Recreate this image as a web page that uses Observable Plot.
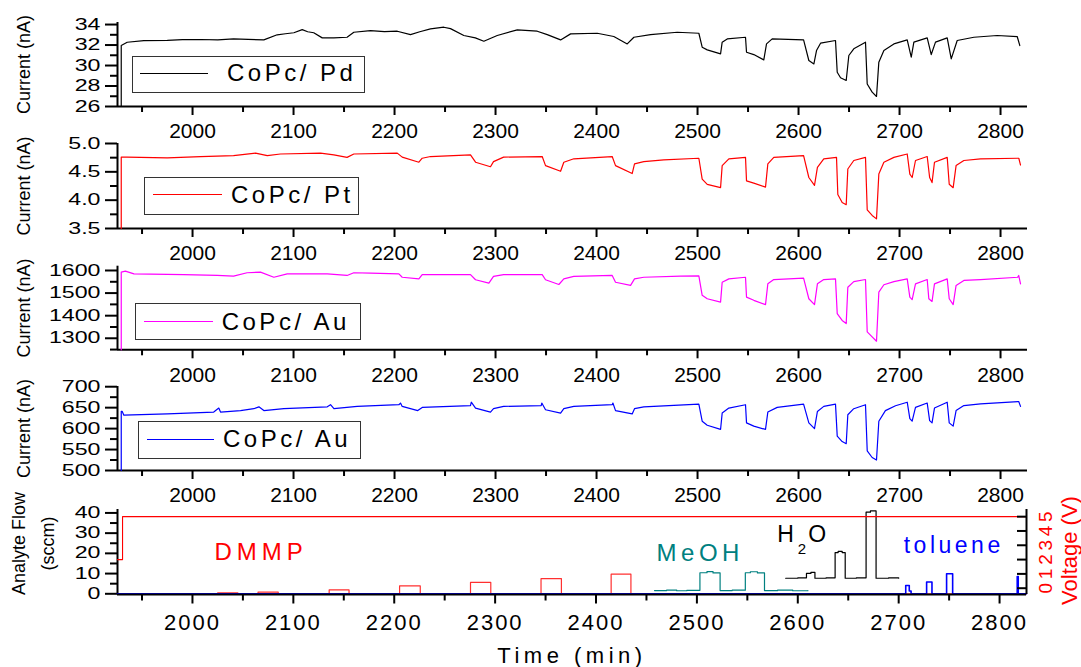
<!DOCTYPE html>
<html>
<head>
<meta charset="utf-8">
<script src="https://cdn.jsdelivr.net/npm/d3@7"></script>
<script src="https://cdn.jsdelivr.net/npm/@observablehq/plot@0.6"></script>
<style>
  html, body { margin: 0; padding: 0; background: #fff; }
  #chart { position: relative; width: 1081px; height: 667px; overflow: hidden; background: #fff;
           font-family: "Liberation Sans", Arial, Helvetica, sans-serif; }
  #chart svg { position: absolute; left: 0; max-width: none; }
  .leg { position: absolute; border: 1.5px solid #333; box-sizing: border-box; }
  .legline { position: absolute; height: 0; border-top: 1.2px solid; }
  .legtext { position: absolute; font-size: 24px; line-height: 24px; letter-spacing: 3.5px; color: #000; white-space: nowrap; }
</style>
</head>
<body>
<div id="chart"></div>
<script>
// ---------------- DATA ----------------
const timeDomain = [1925.7, 2826.7];
const xMajorTicks = [2000, 2100, 2200, 2300, 2400, 2500, 2600, 2700, 2800];
const xMinorTicks = [1950, 2050, 2150, 2250, 2350, 2450, 2550, 2650, 2750];

const pdTicks = [26, 28, 30, 32, 34];
const pdMinor = [27, 29, 31, 33];
const ptTicks = [3.5, 4.0, 4.5, 5.0];
const ptMinor = [3.75, 4.25, 4.75];
const auTicks = [1300, 1400, 1500, 1600];
const auMinor = [1250, 1350, 1450, 1550];
const au2Ticks = [500, 550, 600, 650, 700];
const au2Minor = [525, 575, 625, 675];
const flowTicks = [0, 10, 20, 30, 40];
const flowMinor = [5, 15, 25, 35];
const voltTicks = [0, 1, 2, 3, 4, 5];

// time (min), current (nA)
const pdCurrent = [
[1929.4,26],[1929.4,31.95],[1935.3,32.27],[1951.8,32.44],[1975,32.45],[1990,32.52],[2008,32.54],[2025,32.5],[2040.6,32.6],[2055,32.55],[2070.6,32.5],[2083.8,33.0],[2092,33.1],[2100.3,33.2],[2108.6,33.5],[2114,33.3],[2120,33.2],[2128.4,32.7],[2139.9,32.7],[2153,32.76],[2159.7,33.25],[2176.2,33.41],[2190,33.3],[2202.7,33.35],[2215.8,33.02],[2225,33.3],[2235.6,33.58],[2248.8,33.74],[2255.4,33.6],[2268.6,32.93],[2280,32.7],[2288.4,32.37],[2301.7,32.93],[2321.5,33.48],[2341.3,33.35],[2351.2,33.02],[2364.4,32.5],[2374.3,33.09],[2400.7,33.15],[2417.1,32.83],[2430.4,32.11],[2437,32.76],[2453.5,33.02],[2479.9,33.25],[2501.3,33.15],[2504.6,31.79],[2509.6,31.53],[2522.8,31.14],[2524.4,32.28],[2529.4,32.6],[2547.5,32.76],[2548.5,31.3],[2555.7,31.07],[2565.6,30.55],[2568.3,32.11],[2573.9,32.6],[2605,32.5],[2610.2,30.49],[2615.2,30.16],[2617.8,31.46],[2621.8,32.18],[2636.6,32.44],[2638.3,29.35],[2641.6,28.8],[2647.2,28.54],[2649.8,30.98],[2654.7,31.63],[2666.3,32.28],[2668,28.2],[2672.9,27.4],[2677.2,26.98],[2679.5,30.33],[2684.5,31.46],[2694.4,32.11],[2707.6,32.5],[2711.6,30.81],[2714.2,32.28],[2727.4,32.7],[2731.4,31.07],[2735.6,32.28],[2747.2,32.7],[2751.2,30.65],[2757.1,32.44],[2773.6,32.76],[2796.7,32.93],[2816.5,32.83],[2819.1,31.95]
];
const ptCurrent = [
[1929.4,3.5],[1929.4,4.76],[1935,4.76],[1975,4.745],[2008,4.77],[2040.6,4.786],[2062.4,4.83],[2074,4.786],[2087,4.815],[2126.7,4.83],[2139.9,4.80],[2153,4.755],[2159.7,4.815],[2202.7,4.83],[2207.6,4.76],[2224.1,4.67],[2227.4,4.74],[2235.6,4.77],[2275.2,4.80],[2280.2,4.67],[2295,4.59],[2298,4.68],[2308,4.76],[2346.2,4.77],[2349.5,4.61],[2364.4,4.51],[2367.6,4.67],[2377.5,4.73],[2415.5,4.77],[2418.8,4.61],[2435.3,4.47],[2437.6,4.64],[2446.8,4.68],[2466.6,4.71],[2501.3,4.74],[2504.6,4.37],[2509.6,4.28],[2522.8,4.22],[2524.4,4.61],[2531,4.73],[2547.5,4.755],[2548.5,4.34],[2555.7,4.30],[2567.3,4.23],[2569.6,4.64],[2575.5,4.755],[2605,4.786],[2610.2,4.40],[2615.8,4.26],[2618.7,4.58],[2625,4.73],[2637.6,4.755],[2638.9,4.10],[2643.2,3.96],[2647.2,3.92],[2648.8,4.55],[2654.7,4.70],[2666.3,4.755],[2668,3.83],[2672.9,3.73],[2677.2,3.67],[2679.5,4.46],[2684.5,4.67],[2694.4,4.755],[2707.6,4.815],[2710.2,4.46],[2712.5,4.40],[2715.8,4.70],[2727.4,4.77],[2729.8,4.40],[2732.2,4.31],[2734.6,4.67],[2747.2,4.755],[2749.2,4.28],[2753.1,4.22],[2756,4.61],[2763.7,4.70],[2780.2,4.73],[2818.1,4.74],[2819.8,4.62]
];
const auCurrent = [
[1929.4,1249],[1929.4,1593],[1933.5,1597],[1942,1585],[1991.4,1582],[2024.4,1578],[2040.6,1575],[2054,1590],[2067.3,1593],[2080.5,1570],[2093.7,1585],[2133.4,1585],[2153,1578],[2159.7,1590],[2176.2,1588],[2204.3,1585],[2207.6,1570],[2224.1,1563],[2227.4,1582],[2275.2,1582],[2280.2,1559],[2293.4,1544],[2298,1574],[2308,1582],[2346.2,1582],[2349.5,1559],[2362.7,1538],[2367.6,1563],[2377.5,1574],[2415.5,1578],[2418.8,1548],[2433.7,1534],[2437.6,1563],[2446.8,1570],[2483.2,1575],[2501.3,1576],[2504.6,1490],[2509.6,1475],[2522.8,1460],[2524.4,1548],[2531,1563],[2547.5,1570],[2548.5,1482],[2555.7,1468],[2567.3,1449],[2569.6,1541],[2575.5,1560],[2605,1566],[2610.2,1475],[2615.8,1449],[2618.7,1541],[2625,1560],[2636.6,1563],[2638.3,1409],[2643.2,1379],[2647.2,1365],[2648.8,1526],[2654.7,1551],[2666.3,1560],[2668,1328],[2672.9,1306],[2677.2,1287],[2679.5,1504],[2684.5,1537],[2694.4,1551],[2707.6,1563],[2710.2,1482],[2712.5,1471],[2715.8,1541],[2727.4,1560],[2729,1475],[2732.2,1463],[2734.6,1541],[2747.2,1563],[2749.2,1475],[2753.1,1449],[2756,1534],[2763.7,1556],[2780.2,1560],[2817,1570],[2818,1578],[2819.8,1541]
];
const au2Current = [
[1929.4,500],[1929.4,641],[1930.4,641],[1932,632],[1975,635],[2021,639.5],[2026,649],[2027.7,639.5],[2047.5,643],[2060.7,647.5],[2065.7,652],[2070.6,643],[2090.4,647.5],[2133.4,652],[2136.6,657],[2140,647.5],[2163,653],[2204.3,657],[2205.9,661],[2207.6,653],[2223,643],[2227.4,650.6],[2275.2,655],[2276,663],[2280.2,649],[2295,639.5],[2298,647.5],[2308,653],[2345.2,655],[2345.8,661],[2349.5,645],[2364.4,637],[2367.6,647.5],[2377.5,653],[2415.5,657],[2416.2,661],[2418.8,643],[2435.3,635],[2437.6,647.5],[2446.8,652],[2501.3,658.4],[2504.6,617.6],[2509.6,608],[2522.8,598],[2524.4,637],[2531,649],[2547.5,657],[2548.5,613.7],[2555.7,606],[2567.3,598],[2569.6,639.5],[2578.9,650.6],[2605,658.4],[2610.2,613.7],[2615.8,600],[2618.7,641],[2625,653],[2636.6,658.4],[2638.3,582],[2643.2,569],[2647.2,564],[2648.8,633],[2654.7,647.5],[2666.3,657],[2668,547],[2672.9,531],[2677.2,525],[2679.5,617.6],[2686,643],[2696,654.6],[2707.6,663],[2710.2,624],[2712.5,617.6],[2715.8,650.6],[2727.4,661],[2729.8,619],[2732.2,613.7],[2734.6,649],[2747.2,663],[2749.2,613.7],[2753.1,606],[2756,643],[2763.7,655],[2780.2,659],[2818,664.7],[2819.8,653]
];

// analyte flow (sccm), step signals: [time, level from this time on]
const dmmpFlow = [[1925.7,0],[2025,0.5],[2045,0],[2065,0.85],[2085,0],[2135.5,1.9],[2155.2,0],[2205.3,3.9],[2225.8,0],[2275.6,5.6],[2295.7,0],[2345.5,7.5],[2365.7,0],[2415,9.7],[2434.6,0],[2826.7,0]];
const meohFlow = [[2458,1.6],[2470,1.8],[2480,1.5],[2490,1.7],[2503,10.4],[2510,11.0],[2516,10.3],[2523,1.6],[2535,1.8],[2548,10.4],[2553,10.9],[2560,10.3],[2567,1.6],[2580,1.8],[2595,1.5],[2610,1.6]];
const h2oFlow = [[2588,7.7],[2600,7.9],[2608.6,10.1],[2613,10.6],[2617,7.7],[2628,7.9],[2637,20.4],[2640,21.0],[2644,20.4],[2647,7.7],[2658,7.9],[2667.7,40.4],[2672,41.0],[2677.6,7.7],[2690,7.9],[2700,7.7]];
const tolueneFlow = [[1925.7,0],[2707,4.1],[2710.5,1.4],[2712.3,0],[2727.7,5.8],[2733,0],[2747.5,9.9],[2753.5,0],[2817.5,8.5],[2818.5,0],[2826.7,0]];
// bias voltage (V)
const biasVoltage = [[1925.7,2.0],[1930.7,5],[2826.7,5]];

// texts
const sensorNames = ["CoPc/ Pd", "CoPc/ Pt", "CoPc/ Au", "CoPc/ Au"];
const yTitle = "Current (nA)";
const flowTitle = ["Analyte Flow", "(sccm)"];
const voltTitle = "Voltage (V)";
const xTitle = "Time (min)";
const annotations = [
  {text: "DMMP", t: 2021.8, v: 20.5, color: "#ff0000", size: 24, spacing: 5},
  {text: "MeOH", t: 2460, v: 19.85, color: "#008080", size: 24, spacing: 4.5},
  {text: "H", t: 2579.6, v: 29.2, color: "#000", size: 23, spacing: 0},
  {text: "2", t: 2600, v: 22.1, color: "#000", size: 15, spacing: 0},
  {text: "O", t: 2610.4, v: 29.2, color: "#000", size: 23, spacing: 0},
  {text: "toluene", t: 2705, v: 23.7, color: "#0000ff", size: 23, spacing: 3.5}
];

// ---------------- DRAW ----------------
const FONT = '"Liberation Sans", Arial, Helvetica, sans-serif';
const chart = document.getElementById("chart");
const fmtInt = d3.format("d");
const X = d => d[0], Y = d => d[1];

function stretchYLabels(svg, k) {
  svg.querySelectorAll('g[aria-label="y-axis tick label"] text').forEach(t => {
    const tr = t.getAttribute("transform");
    if (tr) t.setAttribute("transform", tr + ` scale(${k},1)`);
    else {
      const x = +(t.getAttribute("x") || 0);
      t.setAttribute("transform", `translate(${x},0) scale(${k},1) translate(${-x},0)`);
    }
  });
}

function place(svg, top) {
  svg.style.position = "absolute";
  svg.style.left = "0px";
  svg.style.top = top + "px";
  chart.appendChild(svg);
}

const panels = [
  {data: pdCurrent, color: "#000000", yDomain: [26, 34.2], major: pdTicks, minor: pdMinor, fmt: fmtInt, top: 0, mt: 22, mb: 34},
  {data: ptCurrent, color: "#ff0000", yDomain: [3.5, 5.0], major: ptTicks, minor: ptMinor, fmt: d3.format(".1f"), top: 120, mt: 23, mb: 32},
  {data: auCurrent, color: "#ff00ff", yDomain: [1249, 1619], major: auTicks, minor: auMinor, fmt: fmtInt, top: 240, mt: 25.7, mb: 30.7},
  {data: au2Current, color: "#0000ff", yDomain: [500, 700.5], major: au2Ticks, minor: au2Minor, fmt: fmtInt, top: 360, mt: 26, mb: 30}
];

panels.forEach(p => {
  const svg = Plot.plot({
    width: 1081, height: 140,
    marginLeft: 117, marginRight: 54, marginTop: p.mt, marginBottom: p.mb,
    x: {domain: timeDomain},
    y: {domain: p.yDomain},
    style: {background: "transparent", fontFamily: FONT, overflow: "visible", color: "#000"},
    marks: [
      Plot.axisX(xMajorTicks, {tickSize: 9, tickPadding: 8, fontSize: 21, strokeWidth: 2, tickFormat: fmtInt, label: null}),
      Plot.axisX(xMinorTicks, {tickSize: 6, strokeWidth: 2, tickFormat: () => "", label: null}),
      Plot.axisY(p.major, {tickSize: 12, tickPadding: 5, fontSize: 16, strokeWidth: 2, tickFormat: p.fmt, label: null}),
      Plot.axisY(p.minor, {tickSize: 7, strokeWidth: 2, tickFormat: () => "", label: null}),
      Plot.ruleX([timeDomain[0]], {strokeWidth: 2}),
      Plot.ruleY([p.yDomain[0]], {strokeWidth: 2}),
      Plot.line(p.data, {x: X, y: Y, stroke: p.color, strokeWidth: 1.2}),
      Plot.text([yTitle], {frameAnchor: "left", textAnchor: "middle", lineAnchor: "middle", rotate: -90, dx: -93, fontSize: 18})
    ]
  });
  stretchYLabels(svg, 1.45);
  place(svg, p.top);
});

// bottom panel: analyte flow
const flowDomain = [-0.35, 41.7];
const flowSvg = Plot.plot({
  width: 1081, height: 187,
  marginLeft: 117, marginRight: 55, marginTop: 29, marginBottom: 73,
  x: {domain: timeDomain, axis: null},
  y: {domain: flowDomain},
  style: {background: "transparent", fontFamily: FONT, overflow: "visible", color: "#000"},
  marks: [
    Plot.axisX(xMajorTicks, {tickSize: 9.5, strokeWidth: 2, tickFormat: () => "", label: null}),
    Plot.axisX(xMinorTicks, {tickSize: 6.5, strokeWidth: 2, tickFormat: () => "", label: null}),
    Plot.text(xMajorTicks, {x: d => d, text: fmtInt, frameAnchor: "bottom", dy: 28, lineAnchor: "middle", textAnchor: "middle", fontSize: 22}),
    Plot.axisY(flowTicks, {tickSize: 12, tickPadding: 5, fontSize: 16, strokeWidth: 2, tickFormat: fmtInt, label: null}),
    Plot.axisY(flowMinor, {tickSize: 7, strokeWidth: 2, tickFormat: () => "", label: null}),
    Plot.ruleX([timeDomain[0]], {strokeWidth: 2}),
    Plot.line(dmmpFlow, {x: X, y: Y, curve: "step-after", stroke: "#ff3030", strokeWidth: 1.2}),
    Plot.line(meohFlow, {x: X, y: Y, curve: "step-after", stroke: "#008080", strokeWidth: 1.2}),
    Plot.line(h2oFlow, {x: X, y: Y, curve: "step-after", stroke: "#000000", strokeWidth: 1.2}),
    Plot.line(tolueneFlow, {x: X, y: Y, curve: "step-after", stroke: "#0000ff", strokeWidth: 1.6}),
    Plot.ruleY([flowDomain[0]], {strokeWidth: 2}),
    Plot.text(annotations, {x: "t", y: "v", text: "text", fill: "color", fontSize: "size", textAnchor: "start", lineAnchor: "middle"}),
    Plot.text([flowTitle[0]], {frameAnchor: "left", textAnchor: "middle", lineAnchor: "middle", rotate: -90, dx: -98, dy: -8.5, fontSize: 18}),
    Plot.text([flowTitle[1]], {frameAnchor: "left", textAnchor: "middle", lineAnchor: "middle", rotate: -90, dx: -69, dy: -8.5, fontSize: 18}),
    Plot.text([xTitle], {frameAnchor: "bottom", textAnchor: "middle", lineAnchor: "middle", dy: 61, fontSize: 22})
  ]
});
stretchYLabels(flowSvg, 1.45);
flowSvg.querySelectorAll("text").forEach(t => {
  const a = annotations.find(d => d.text === t.textContent);
  if (a && a.spacing) t.style.letterSpacing = a.spacing + "px";
  if (t.textContent === xTitle) t.style.letterSpacing = "4.5px";
  if (xMajorTicks.map(fmtInt).includes(t.textContent)) t.style.letterSpacing = "2px";
});
place(flowSvg, 480);

// bottom panel: voltage overlay (right axis)
const voltDomain = [-0.44, 5.50];
const voltSvg = Plot.plot({
  width: 1081, height: 187,
  marginLeft: 117, marginRight: 55, marginTop: 29, marginBottom: 73,
  x: {domain: timeDomain, axis: null},
  y: {domain: voltDomain},
  style: {background: "transparent", fontFamily: FONT, overflow: "visible", color: "#000"},
  marks: [
    Plot.line(biasVoltage, {x: X, y: Y, curve: "step-after", stroke: "#ff0000", strokeWidth: 1.1}),
    Plot.axisY(voltTicks, {anchor: "right", tickSize: -10, strokeWidth: 2, tickFormat: () => "", label: null}),
    Plot.ruleX([timeDomain[1]], {strokeWidth: 2}),
    Plot.text(voltTicks, {y: d => d, text: d => String(d), frameAnchor: "right", textAnchor: "middle", lineAnchor: "middle", dx: 19, rotate: -90, fill: "#ff0000", fontSize: 19}),
    Plot.text([voltTitle], {frameAnchor: "right", textAnchor: "middle", lineAnchor: "middle", dx: 43, dy: -1.5, rotate: -90, fill: "#ff0000", fontSize: 22})
  ]
});
place(voltSvg, 480);

// legends (boxes inside the current panels)
const legendLayout = [
  {box: [132, 56, 233, 37], line: [140, 72.7, 68], text: [227, 81.7], color: "#000000"},
  {box: [144, 177, 215, 38], line: [152.7, 194.3, 69], text: [231, 203.7], color: "#ff0000"},
  {box: [135, 303, 226, 37], line: [144, 320.7, 69], text: [221.7, 330], color: "#ff00ff"},
  {box: [138.3, 421, 223, 37.5], line: [146.7, 439.3, 67], text: [223, 447.7], color: "#0000ff"}
];
legendLayout.forEach((L, i) => {
  const box = document.createElement("div");
  box.className = "leg";
  Object.assign(box.style, {left: L.box[0] + "px", top: L.box[1] + "px", width: L.box[2] + "px", height: L.box[3] + "px"});
  chart.appendChild(box);
  const ln = document.createElement("div");
  ln.className = "legline";
  Object.assign(ln.style, {left: L.line[0] + "px", top: L.line[1] + "px", width: L.line[2] + "px", borderTopColor: L.color});
  chart.appendChild(ln);
  const tx = document.createElement("div");
  tx.className = "legtext";
  tx.textContent = sensorNames[i];
  Object.assign(tx.style, {left: L.text[0] + "px", top: (L.text[1] - 20.3) + "px"});
  chart.appendChild(tx);
});
</script>
</body>
</html>
